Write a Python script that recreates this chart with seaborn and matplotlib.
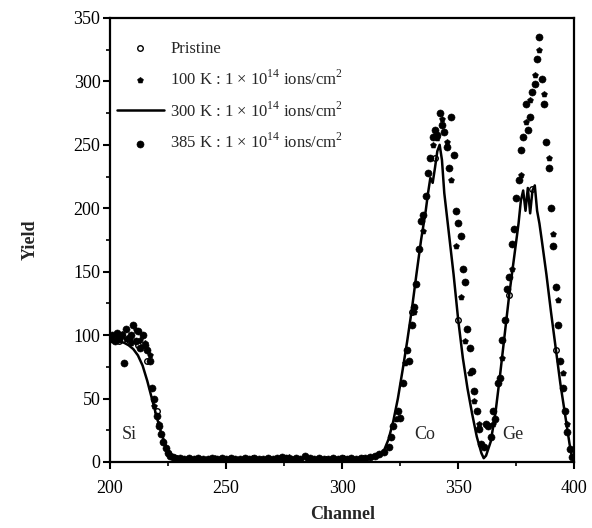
import numpy as np
import pandas as pd
import seaborn as sns
import matplotlib.pyplot as plt
from matplotlib.ticker import MultipleLocator

# RBS spectra: yield vs channel

# 300 K line
ch_300 = [200, 202, 204, 206, 208, 210, 212, 214, 216, 218, 220, 222, 224, 226, 228, 230,
          234, 238, 242, 246, 250, 254, 258, 262, 266, 270, 274, 278, 282, 284, 286, 290,
          294, 298, 302, 306, 310, 313, 316, 318,
          320, 322, 324, 326, 328, 330, 332, 334, 336, 337, 338, 339, 340, 341, 342, 343,
          344, 346, 348, 350, 352, 354, 356, 358, 360, 361, 362, 364, 366, 368, 370, 372,
          374, 376, 377, 378, 379, 380, 381, 382, 383, 384, 385, 386, 388, 390, 392, 394,
          396, 398, 399, 400]
y_300 = [95, 96, 95, 94, 92, 89, 84, 76, 64, 50, 36, 23, 13, 6, 3, 2,
         2, 1, 2, 2, 1, 2, 2, 1, 2, 2, 2, 3, 2, 4, 2, 2,
         2, 2, 1, 2, 2, 3, 5, 9,
         18, 32, 50, 72, 95, 120, 148, 175, 198, 212, 224, 220, 232, 245, 250, 238,
         212, 180, 148, 112, 82, 58, 38, 20, 7, 3, 5, 16, 38, 68, 100, 132,
         160, 188, 206, 214, 198, 216, 196, 214, 218, 198, 188, 175, 148, 118, 90, 62,
         38, 14, 4, 0]

# 385 K points
ch_385 = [200, 201, 202, 203, 204, 205, 206, 207, 208, 209, 210, 211, 212, 213, 214, 215,
          216, 217, 218, 219, 220, 221, 222, 223, 224, 225, 226, 227, 228, 230, 232, 234,
          236, 238, 240, 242, 244, 246, 248, 250, 252, 254, 256, 258, 260, 262, 264, 266,
          268, 270, 272, 274, 276, 278, 280, 282, 284, 286, 288, 290, 292, 294, 296, 298,
          300, 302, 304, 306, 308, 310, 312, 314, 316,
          318, 320, 321, 322, 324, 325, 326, 328, 329, 330, 331, 332, 333, 334, 335, 336,
          337, 338, 339, 340, 341, 342, 343, 344, 345, 346, 347, 348, 349, 350, 351, 352,
          353, 354, 355, 356, 357, 358, 359, 360, 361, 362, 363, 364, 365, 366, 367, 368,
          369, 370, 371, 372, 373, 374, 375, 376, 377, 378, 379, 380, 381, 382, 383, 384,
          385, 386, 387, 388, 389, 390, 391, 392, 393, 394, 395, 396, 397, 398, 399]
y_385 = [98, 100, 95, 102, 97, 100, 78, 105, 98, 100, 108, 95, 103, 90, 100, 92,
         88, 80, 58, 50, 36, 28, 22, 16, 11, 7, 5, 4, 3, 3, 2, 3,
         2, 3, 2, 2, 3, 2, 3, 2, 3, 2, 2, 3, 2, 3, 2, 2,
         3, 2, 3, 4, 3, 2, 3, 2, 5, 3, 2, 3, 2, 2, 3, 2,
         3, 2, 3, 2, 3, 3, 4, 5, 6,
         8, 12, 20, 28, 40, 35, 62, 88, 80, 108, 122, 140, 168, 190, 195, 210,
         228, 240, 256, 262, 258, 275, 266, 260, 248, 232, 272, 242, 198, 188, 178, 152,
         142, 105, 90, 72, 56, 40, 26, 14, 12, 30, 28, 20, 40, 34, 62, 66,
         96, 112, 136, 146, 172, 184, 208, 222, 246, 256, 282, 262, 272, 292, 298, 318,
         335, 302, 282, 252, 232, 200, 170, 138, 108, 80, 58, 40, 24, 10, 4]

# 100 K points
ch_100 = [201, 203, 205, 207, 209, 211, 213, 215, 217, 219, 221, 223, 225,
          229, 237, 245, 253, 261, 269, 277, 285, 293, 301, 309,
          323, 327, 331, 335, 339, 341, 343, 345, 347, 349, 351, 353, 355, 357, 359,
          365, 369, 373, 377, 379, 381, 383, 385, 387, 389, 391, 393, 395, 397]
y_100 = [96, 99, 101, 97, 94, 104, 96, 94, 84, 44, 30, 16, 7,
         3, 2, 3, 2, 3, 2, 4, 3, 2, 3, 3,
         34, 78, 118, 182, 250, 255, 270, 252, 222, 170, 130, 95, 70, 48, 30,
         30, 82, 152, 226, 268, 285, 305, 325, 290, 240, 180, 128, 70, 30]

# pristine
ch_pr = [204, 208, 212, 216, 220, 330, 340, 350, 372, 382, 392]
y_pr = [95, 96, 92, 80, 40, 118, 240, 112, 132, 215, 88]

sns.set_theme(style="ticks")
plt.rcParams['font.family'] = ['Liberation Serif', 'DejaVu Serif']
plt.rcParams['mathtext.fontset'] = 'custom'
plt.rcParams['mathtext.rm'] = 'Liberation Serif'

fig = plt.figure(figsize=(5.92, 5.28), dpi=100)
ax = fig.add_axes([0.186, 0.125, 0.784, 0.841])

lbl_100 = r'100 K : 1 $\times$ 10$^{14}$ ions/cm$^{2}$'
lbl_300 = r'300 K : 1 $\times$ 10$^{14}$ ions/cm$^{2}$'
lbl_385 = r'385 K : 1 $\times$ 10$^{14}$ ions/cm$^{2}$'

sns.scatterplot(x=ch_pr, y=y_pr, ax=ax, marker='o', facecolor='white', edgecolor='black',
                linewidth=1.0, s=16, label='Pristine', zorder=2)
sns.scatterplot(x=ch_100, y=y_100, ax=ax, marker='p', color='black', edgecolor='black',
                s=20, label=lbl_100, zorder=3)
sns.lineplot(x=ch_300, y=y_300, ax=ax, color='black', linewidth=1.8, label=lbl_300,
             estimator=None, sort=False, zorder=4)
sns.scatterplot(x=ch_385, y=y_385, ax=ax, marker='o', color='black', edgecolor='black',
                s=26, label=lbl_385, zorder=3)

ax.set_xlim(200, 400)
ax.set_ylim(0, 350)
ax.xaxis.set_major_locator(MultipleLocator(50))
ax.xaxis.set_minor_locator(MultipleLocator(25))
ax.yaxis.set_major_locator(MultipleLocator(50))
ax.yaxis.set_minor_locator(MultipleLocator(25))
ax.tick_params(axis='both', which='major', direction='out', length=5, width=1.5,
               labelsize=13, color='black', labelcolor='black')
ax.tick_params(axis='both', which='minor', direction='out', length=3, width=1.2, color='black')
ax.tick_params(axis='x', pad=8)
ax.tick_params(axis='y', pad=2)
for sp in ax.spines.values():
    sp.set_linewidth(1.6)
    sp.set_color('black')

ax.set_xlabel('Channel', fontsize=13, fontweight='bold')
ax.set_ylabel('Yield', fontsize=13, fontweight='bold')
ax.xaxis.set_label_coords(0.5, -0.098)
ax.yaxis.set_label_coords(-0.155, 0.5)

ax.text(205, 18, 'Si', fontsize=13)
ax.text(331, 18, 'Co', fontsize=13)
ax.text(369, 18, 'Ge', fontsize=13)

ax.legend(loc='upper left', frameon=False, fontsize=12, handlelength=2.8,
          labelspacing=0.75, handletextpad=0.4, borderaxespad=0.3,
          bbox_to_anchor=(-0.01, 0.975))

fig.savefig('out.png', dpi=100)
